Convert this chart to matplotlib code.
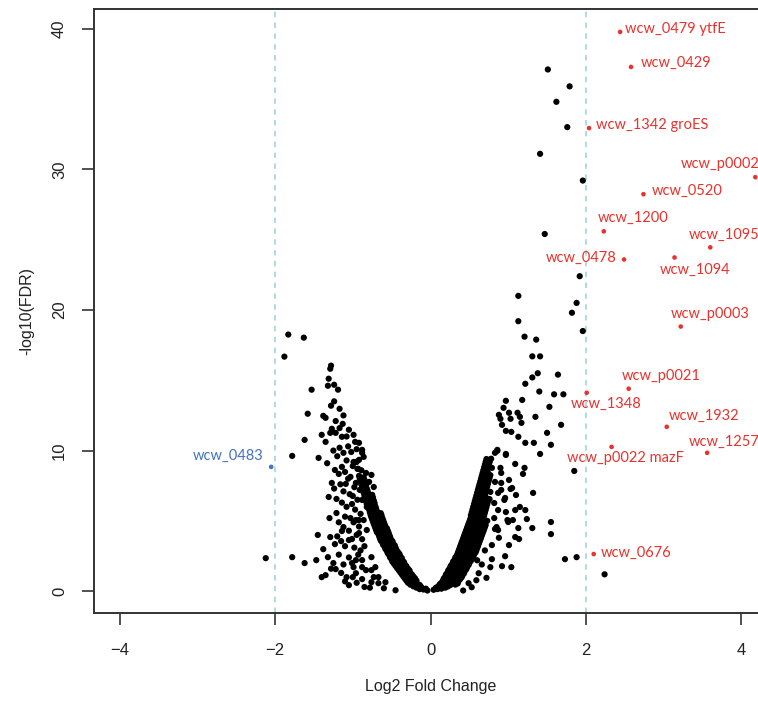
import matplotlib
matplotlib.use("Agg")
import matplotlib.pyplot as plt

# labelled genes (log2 fold change, -log10 FDR)
up_names = ["wcw_0479 ytfE", "wcw_0429", "wcw_1342 groES", "wcw_p0002", "wcw_0520",
            "wcw_1200", "wcw_1095", "wcw_0478", "wcw_1094", "wcw_p0003",
            "wcw_p0021", "wcw_1348", "wcw_1932", "wcw_1257", "wcw_p0022 mazF", "wcw_0676"]
up_fc = [2.44, 2.58, 2.04, 4.18, 2.74, 2.23, 3.60, 2.49, 3.14, 3.22,
         2.55, 2.01, 3.04, 3.56, 2.33, 2.10]
up_fdr = [39.77, 37.28, 32.93, 29.44, 28.23, 25.59, 24.45, 23.59, 23.73, 18.82,
          14.40, 14.11, 11.69, 9.84, 10.26, 2.64]

down_names = ["wcw_0483"]
down_fc = [-2.05]
down_fdr = [8.84]

# unlabelled genes, left side
left_pts = [(-1.83, 18.25), (-1.63, 18.03), (-1.88, 16.68), (-1.28, 16.04), (-1.29, 15.82),
            (-1.31, 15.11), (-1.32, 14.61), (-1.24, 14.68), (-1.19, 14.33), (-1.53, 14.33),
            (-1.28, 13.19), (-1.17, 12.97), (-1.58, 12.62), (-1.38, 12.47), (-1.35, 12.33),
            (-1.13, 11.90), (-1.27, 11.55), (-1.22, 11.26), (-1.29, 11.26), (-1.05, 11.48),
            (-1.40, 11.12), (-1.14, 10.98), (-1.62, 10.76), (-1.35, 10.62), (-0.99, 11.12),
            (-0.97, 10.62), (-0.92, 10.55), (-0.88, 9.84), (-1.78, 9.62), (-1.44, 9.48),
            (-1.12, 9.84), (-0.99, 9.19), (-1.23, 8.62), (-1.14, 8.84), (-1.18, 8.34),
            (-1.10, 8.48), (-1.03, 8.13), (-1.27, 7.70), (-1.09, 7.63), (-0.96, 7.70),
            (-1.31, 6.70), (-1.21, 6.56), (-1.00, 6.77), (-1.01, 6.20), (-1.21, 5.56),
            (-1.03, 5.20), (-0.96, 5.06), (-1.12, 4.56), (-1.14, 4.28), (-1.29, 3.85),
            (-1.23, 3.35), (-1.15, 3.56), (-1.01, 3.71), (-1.38, 2.99), (-1.32, 2.42),
            (-2.12, 2.35), (-1.78, 2.42), (-1.62, 2.00), (-1.47, 2.21), (-1.22, 1.57),
            (-1.40, 1.00), (-1.35, 1.14), (-1.08, 1.00), (-0.99, 1.71), (-0.96, 1.28),
            (-0.92, 5.06), (-1.01, 2.00), (-0.88, 2.21), (-0.88, 0.86), (-0.83, 1.50),
            (-0.73, 1.00), (-0.67, 0.57), (-0.60, 0.21), (-0.71, 1.71), (-0.76, 2.42),
            (-0.88, 10.05), (-0.86, 9.55), (-0.92, 9.34), (-0.96, 9.19), (-0.83, 8.41),
            (-0.76, 8.27), (-0.79, 7.77), (-0.73, 7.41), (-0.88, 6.49), (-0.82, 5.99),
            (-0.71, 5.77), (-0.64, 5.27), (-0.86, 5.06), (-0.82, 4.35), (-0.92, 4.13),
            (-1.05, 3.64), (-0.96, 2.21), (-0.88, 1.71), (-0.76, 1.50), (-0.67, 1.00),
            (-0.58, 0.64), (-0.45, 0.07), (-1.00, 1.00), (-1.05, 0.43), (-0.76, 0.64),
            (-1.06, 10.30), (-1.02, 9.90), (-0.95, 10.10), (-1.08, 9.30), (-1.00, 8.90),
            (-0.93, 8.70), (-1.06, 8.00), (-0.98, 7.40), (-0.91, 7.20), (-1.12, 7.10),
            (-1.04, 6.90), (-0.94, 6.50), (-1.08, 6.00), (-0.97, 5.80), (-0.90, 5.50),
            (-1.10, 5.30), (-0.99, 4.90), (-0.92, 4.60), (-1.05, 4.30), (-0.95, 4.00),
            (-0.88, 3.70), (-1.10, 3.20), (-0.98, 3.10), (-0.90, 2.90), (-1.18, 2.60),
            (-1.05, 2.40), (-0.93, 2.60), (-1.25, 2.00), (-1.12, 1.90), (-0.85, 3.20),
            (-1.15, 1.30), (-1.28, 1.60), (-1.10, 0.70), (-0.95, 0.60), (-0.85, 0.30),
            (-0.78, 0.25), (-1.17, 10.20), (-1.25, 10.00), (-1.20, 9.60), (-1.33, 9.10),
            (-1.16, 7.60), (-1.24, 7.30), (-1.14, 6.30), (-1.30, 5.20), (-1.18, 4.90),
            (-1.45, 4.00), (-1.20, 3.90), (-1.08, 11.00), (-1.17, 11.60), (-1.22, 12.10),
            (-1.12, 12.50), (-1.24, 13.50)]

# dense left arm of the V
core_left = [(-0.14, 0.15), (-0.09, 0.12), (-0.04, 0.05), (-0.22, 0.35), (-0.17, 0.33), (-0.12, 0.30),
             (-0.29, 0.60), (-0.24, 0.58), (-0.19, 0.55), (-0.14, 0.45), (-0.33, 0.90), (-0.28, 0.88),
             (-0.23, 0.85), (-0.18, 0.75), (-0.37, 1.20), (-0.32, 1.18), (-0.27, 1.12), (-0.22, 1.05),
             (-0.41, 1.50), (-0.36, 1.45), (-0.31, 1.42), (-0.26, 1.30), (-0.45, 1.80), (-0.40, 1.76),
             (-0.35, 1.70), (-0.29, 1.60), (-0.49, 2.10), (-0.44, 2.05), (-0.38, 2.00), (-0.33, 1.90),
             (-0.52, 2.40), (-0.47, 2.38), (-0.42, 2.30), (-0.36, 2.20), (-0.55, 2.70), (-0.50, 2.65),
             (-0.45, 2.60), (-0.39, 2.50), (-0.58, 3.00), (-0.53, 2.95), (-0.48, 2.90), (-0.42, 2.80),
             (-0.61, 3.30), (-0.56, 3.28), (-0.51, 3.20), (-0.45, 3.10), (-0.64, 3.60), (-0.59, 3.55),
             (-0.54, 3.50), (-0.48, 3.40), (-0.66, 3.90), (-0.61, 3.88), (-0.56, 3.80), (-0.51, 3.70),
             (-0.69, 4.20), (-0.64, 4.15), (-0.58, 4.10), (-0.53, 4.00), (-0.71, 4.50), (-0.66, 4.48),
             (-0.61, 4.40), (-0.55, 4.30), (-0.73, 4.80), (-0.68, 4.75), (-0.63, 4.70), (-0.58, 4.60),
             (-0.75, 5.10), (-0.70, 5.05), (-0.65, 5.00), (-0.60, 4.90), (-0.77, 5.40), (-0.72, 5.38),
             (-0.67, 5.30), (-0.62, 5.20), (-0.79, 5.80), (-0.74, 5.75), (-0.69, 5.70), (-0.64, 5.55),
             (-0.82, 6.20), (-0.76, 6.15), (-0.71, 6.05), (-0.84, 6.60), (-0.78, 6.55), (-0.73, 6.45),
             (-0.86, 7.00), (-0.80, 6.95), (-0.75, 6.85), (-0.88, 7.40), (-0.82, 7.30), (-0.90, 7.80),
             (-0.84, 7.75), (-0.92, 8.20), (-0.86, 8.10), (-0.94, 8.70), (-0.89, 8.60), (-0.95, 9.20),
             (-0.18, 0.25), (-0.11, 0.22), (-0.06, 0.18), (-0.26, 0.47), (-0.21, 0.45), (-0.16, 0.40),
             (-0.31, 0.75), (-0.26, 0.72), (-0.21, 0.68), (-0.35, 1.05), (-0.30, 1.02), (-0.25, 0.98),
             (-0.20, 0.92), (-0.39, 1.35), (-0.34, 1.32), (-0.29, 1.28), (-0.24, 1.20), (-0.43, 1.65),
             (-0.38, 1.62), (-0.33, 1.58), (-0.27, 1.48), (-0.47, 1.95), (-0.42, 1.92), (-0.36, 1.86),
             (-0.31, 1.78), (-0.50, 2.25), (-0.45, 2.22), (-0.40, 2.16), (-0.34, 2.06), (-0.53, 2.55),
             (-0.48, 2.52), (-0.43, 2.46), (-0.37, 2.36), (-0.56, 2.85), (-0.51, 2.82), (-0.46, 2.76),
             (-0.40, 2.66), (-0.59, 3.15), (-0.54, 3.12), (-0.49, 3.06), (-0.44, 2.96), (-0.62, 3.45),
             (-0.57, 3.42), (-0.52, 3.36), (-0.46, 3.26), (-0.65, 3.75), (-0.60, 3.72), (-0.55, 3.66),
             (-0.49, 3.56), (-0.67, 4.05), (-0.62, 4.02), (-0.57, 3.96), (-0.52, 3.86), (-0.70, 4.35),
             (-0.65, 4.32), (-0.60, 4.26), (-0.54, 4.16), (-0.72, 4.65), (-0.67, 4.62), (-0.62, 4.56),
             (-0.56, 4.46), (-0.74, 4.95), (-0.69, 4.92), (-0.64, 4.86), (-0.59, 4.76), (-0.76, 5.25),
             (-0.71, 5.22), (-0.66, 5.16), (-0.61, 5.06), (-0.78, 5.60), (-0.73, 5.56), (-0.68, 5.50),
             (-0.63, 5.40), (-0.80, 6.00), (-0.75, 5.96), (-0.70, 5.88), (-0.83, 6.40), (-0.77, 6.36),
             (-0.72, 6.28), (-0.85, 6.80), (-0.79, 6.76), (-0.74, 6.66), (-0.87, 7.20), (-0.81, 7.14),
             (-0.89, 7.60), (-0.83, 7.54), (-0.91, 8.00), (-0.85, 7.92)]

# dense right arm of the V
core_right = [(0.04, 0.10), (0.09, 0.15), (0.14, 0.18), (0.19, 0.25), (0.10, 0.35), (0.15, 0.38),
              (0.20, 0.40), (0.25, 0.42), (0.14, 0.60), (0.19, 0.62), (0.24, 0.65), (0.29, 0.60),
              (0.35, 0.55), (0.17, 0.90), (0.22, 0.92), (0.27, 0.95), (0.32, 0.88), (0.38, 0.85),
              (0.20, 1.20), (0.25, 1.22), (0.30, 1.25), (0.35, 1.18), (0.41, 1.10), (0.23, 1.50),
              (0.28, 1.52), (0.33, 1.55), (0.38, 1.48), (0.44, 1.40), (0.26, 1.80), (0.31, 1.82),
              (0.36, 1.85), (0.41, 1.78), (0.47, 1.70), (0.29, 2.10), (0.34, 2.12), (0.39, 2.15),
              (0.44, 2.08), (0.50, 2.00), (0.32, 2.40), (0.37, 2.42), (0.42, 2.45), (0.47, 2.38),
              (0.53, 2.30), (0.60, 2.20), (0.35, 2.70), (0.40, 2.72), (0.45, 2.75), (0.50, 2.68),
              (0.56, 2.60), (0.37, 3.00), (0.42, 3.02), (0.47, 3.05), (0.53, 2.98), (0.59, 2.90),
              (0.39, 3.30), (0.44, 3.32), (0.50, 3.35), (0.55, 3.28), (0.61, 3.20), (0.41, 3.60),
              (0.46, 3.62), (0.52, 3.65), (0.57, 3.58), (0.63, 3.50), (0.43, 3.90), (0.48, 3.92),
              (0.54, 3.95), (0.59, 3.88), (0.65, 3.80), (0.45, 4.20), (0.50, 4.22), (0.56, 4.25),
              (0.61, 4.18), (0.67, 4.10), (0.47, 4.50), (0.52, 4.52), (0.58, 4.55), (0.63, 4.48),
              (0.69, 4.40), (0.49, 4.80), (0.54, 4.82), (0.60, 4.85), (0.65, 4.78), (0.71, 4.70),
              (0.51, 5.10), (0.56, 5.12), (0.62, 5.15), (0.67, 5.08), (0.73, 5.00), (0.52, 5.40),
              (0.58, 5.42), (0.63, 5.45), (0.69, 5.38), (0.54, 5.80), (0.60, 5.82), (0.65, 5.85),
              (0.71, 5.78), (0.56, 6.20), (0.62, 6.22), (0.67, 6.25), (0.73, 6.18), (0.58, 6.60),
              (0.63, 6.62), (0.69, 6.65), (0.76, 6.55), (0.60, 7.00), (0.65, 7.02), (0.71, 7.05),
              (0.62, 7.40), (0.67, 7.42), (0.73, 7.45), (0.64, 7.80), (0.69, 7.82), (0.75, 7.85),
              (0.66, 8.20), (0.71, 8.22), (0.77, 8.25), (0.68, 8.60), (0.73, 8.62), (0.70, 9.00),
              (0.75, 9.02), (0.72, 9.40), (0.78, 9.42),
              (0.07, 0.25), (0.12, 0.28), (0.17, 0.30), (0.22, 0.33), (0.12, 0.50), (0.17, 0.52),
              (0.22, 0.55), (0.27, 0.50), (0.32, 0.47), (0.16, 0.75), (0.21, 0.78), (0.26, 0.80),
              (0.31, 0.74), (0.36, 0.70), (0.19, 1.05), (0.24, 1.08), (0.29, 1.10), (0.34, 1.03),
              (0.40, 0.98), (0.22, 1.35), (0.27, 1.38), (0.32, 1.40), (0.37, 1.33), (0.43, 1.26),
              (0.25, 1.65), (0.30, 1.68), (0.35, 1.70), (0.40, 1.63), (0.46, 1.56), (0.28, 1.95),
              (0.33, 1.98), (0.38, 2.00), (0.43, 1.93), (0.49, 1.86), (0.31, 2.25), (0.36, 2.28),
              (0.41, 2.30), (0.46, 2.23), (0.52, 2.16), (0.34, 2.55), (0.39, 2.58), (0.44, 2.60),
              (0.49, 2.53), (0.55, 2.46), (0.36, 2.85), (0.41, 2.88), (0.46, 2.90), (0.52, 2.83),
              (0.58, 2.76), (0.38, 3.15), (0.43, 3.18), (0.49, 3.20), (0.54, 3.13), (0.60, 3.06),
              (0.40, 3.45), (0.45, 3.48), (0.51, 3.50), (0.56, 3.43), (0.62, 3.36), (0.42, 3.75),
              (0.47, 3.78), (0.53, 3.80), (0.58, 3.73), (0.64, 3.66), (0.44, 4.05), (0.49, 4.08),
              (0.55, 4.10), (0.60, 4.03), (0.66, 3.96), (0.46, 4.35), (0.51, 4.38), (0.57, 4.40),
              (0.62, 4.33), (0.68, 4.26), (0.48, 4.65), (0.53, 4.68), (0.59, 4.70), (0.64, 4.63),
              (0.70, 4.56), (0.50, 4.95), (0.55, 4.98), (0.61, 5.00), (0.66, 4.93), (0.52, 5.25),
              (0.57, 5.28), (0.62, 5.30), (0.68, 5.23), (0.53, 5.60), (0.59, 5.62), (0.64, 5.65),
              (0.70, 5.58), (0.55, 6.00), (0.61, 6.02), (0.66, 6.05), (0.72, 5.98), (0.57, 6.40),
              (0.62, 6.42), (0.68, 6.45), (0.74, 6.38), (0.59, 6.80), (0.64, 6.82), (0.70, 6.85),
              (0.61, 7.20), (0.66, 7.22), (0.72, 7.25), (0.63, 7.60), (0.68, 7.62), (0.74, 7.65),
              (0.65, 8.00), (0.70, 8.02), (0.76, 8.05), (0.67, 8.40), (0.72, 8.42), (0.69, 8.80),
              (0.74, 8.82), (0.71, 9.20), (0.76, 9.22)]

# unlabelled genes, right side
right_pts = [(1.51, 37.10), (1.79, 35.90), (1.62, 34.80), (1.76, 33.00), (1.41, 31.10),
             (1.96, 29.20), (1.47, 25.40), (1.92, 22.40), (1.13, 21.00), (1.88, 20.50),
             (1.82, 19.80), (1.13, 19.20), (1.96, 18.50), (1.21, 18.10), (1.36, 17.89),
             (1.31, 16.70), (1.41, 16.70), (1.38, 15.50), (1.31, 15.20), (1.64, 15.40),
             (1.22, 14.75), (1.40, 14.20), (1.59, 14.00), (1.71, 14.00), (1.18, 13.60),
             (0.97, 13.54), (0.94, 13.04), (1.53, 13.11), (1.01, 12.69), (1.12, 12.69),
             (0.88, 12.54), (0.90, 12.26), (1.03, 12.26), (1.15, 12.40), (1.35, 12.40),
             (0.92, 11.83), (1.17, 11.97), (1.68, 11.83), (0.97, 11.40), (1.04, 11.33),
             (1.50, 11.26), (1.13, 10.98), (1.22, 10.55), (1.33, 10.55), (1.55, 10.41),
             (1.41, 9.76), (0.97, 9.76), (0.86, 9.98), (1.85, 8.55), (1.09, 9.05),
             (1.21, 8.77), (1.19, 8.34), (0.97, 9.69), (0.91, 8.41), (1.01, 7.91),
             (1.05, 7.34), (1.10, 6.84), (0.95, 6.49), (1.32, 6.99), (0.87, 5.77),
             (0.97, 5.63), (1.09, 5.77), (1.22, 5.77), (1.24, 5.13), (1.00, 4.92),
             (1.06, 5.06), (0.85, 4.56), (0.87, 4.35), (1.31, 4.49), (1.55, 4.92),
             (1.55, 4.06), (1.09, 3.85), (1.14, 3.71), (1.01, 3.28), (0.79, 3.28),
             (0.96, 2.49), (0.79, 2.28), (0.92, 1.78), (1.04, 1.71), (1.73, 2.28),
             (1.88, 2.42), (2.24, 1.20), (0.77, 1.71), (0.62, 1.28), (0.59, 0.78),
             (0.53, 0.28), (0.42, 0.05), (0.49, 0.57), (1.13, 4.49), (0.99, 5.06),
             (0.96, 6.63), (0.91, 7.20), (1.03, 7.27), (1.15, 5.99), (0.83, 4.42),
             (0.86, 10.05), (0.83, 9.84), (0.76, 9.19), (0.71, 8.98), (0.79, 8.77),
             (0.90, 8.77), (0.74, 8.41), (0.71, 8.05), (0.83, 7.77), (0.91, 7.70),
             (0.77, 7.06), (0.87, 6.99), (0.82, 6.27), (0.72, 6.63), (0.88, 3.80),
             (0.70, 2.90), (0.82, 5.20), (0.66, 1.90), (0.72, 0.95)]

# label offsets in pixels from each dot: (dx, dy, ha)
up_offsets = [(5, 3, "left"), (10, 4, "left"), (7, 3, "left"), (-75, 13, "left"), (8, 3, "left"),
              (-6, 13, "left"), (-22, 12, "left"), (-8, 2, "right"), (-15, -12, "left"), (-10, 13, "left"),
              (-7, 13, "left"), (-16, -11, "left"), (2, 11, "left"), (-18, 11, "left"), (-45, -11, "left"),
              (7, 1, "left")]
down_offsets = [(-8, 11, "right")]

black = left_pts + core_left + core_right + right_pts
bx = [p[0] for p in black]
by = [p[1] for p in black]

plt.rcParams["font.family"] = ["Liberation Sans", "DejaVu Sans"]
fig = plt.figure(figsize=(7.58, 7.02), dpi=100)
W, H = 758, 702
ax = fig.add_axes([94 / W, 1 - 613 / H, (767 - 94) / W, (613 - 9) / H])

ax.axvline(-2, color="#a9d6e5", lw=1.3, ls=(0, (3, 3)), zorder=1)
ax.axvline(2, color="#a9d6e5", lw=1.3, ls=(0, (3, 3)), zorder=1)

ax.scatter(bx, by, s=20, c="black", edgecolors="none", zorder=2)
ax.scatter(up_fc, up_fdr, s=11, c="#e8322d", edgecolors="none", zorder=3)
ax.scatter(down_fc, down_fdr, s=11, c="#4472c4", edgecolors="none", zorder=3)

for name, x, y, (dx, dy, ha) in zip(up_names, up_fc, up_fdr, up_offsets):
    ax.annotate(name, (x, y), xytext=(dx, dy), textcoords="offset pixels",
                ha=ha, va="center", color="#e8322d", fontsize=10.5,
                family=["Lato", "DejaVu Sans"], annotation_clip=False)
for name, x, y, (dx, dy, ha) in zip(down_names, down_fc, down_fdr, down_offsets):
    ax.annotate(name, (x, y), xytext=(dx, dy), textcoords="offset pixels",
                ha=ha, va="center", color="#4472c4", fontsize=10.5,
                family=["Lato", "DejaVu Sans"])

ax.set_xlim(-4.33, 4.33)
ax.set_ylim(-1.55, 41.4)
ax.set_xticks([-4, -2, 0, 2, 4])
ax.set_xticklabels(["\u22124", "\u22122", "0", "2", "4"])
ax.set_yticks([0, 10, 20, 30, 40])
ax.tick_params(axis="both", direction="out", length=8.5, width=1.2, labelsize=12,
               color="#333333", labelcolor="#222222")
ax.tick_params(axis="x", pad=13)
ax.tick_params(axis="y", pad=11)
for lab in ax.get_yticklabels():
    lab.set_rotation(90)
    lab.set_va("center")
for sp in ax.spines.values():
    sp.set_linewidth(1.4)
    sp.set_color("#333333")

ax.set_xlabel("Log2 Fold Change", fontsize=11.5, color="#222222", labelpad=15)
ax.set_ylabel("-log10(FDR)", fontsize=11.5, color="#222222", labelpad=13)

fig.savefig("out.png", dpi=100)
